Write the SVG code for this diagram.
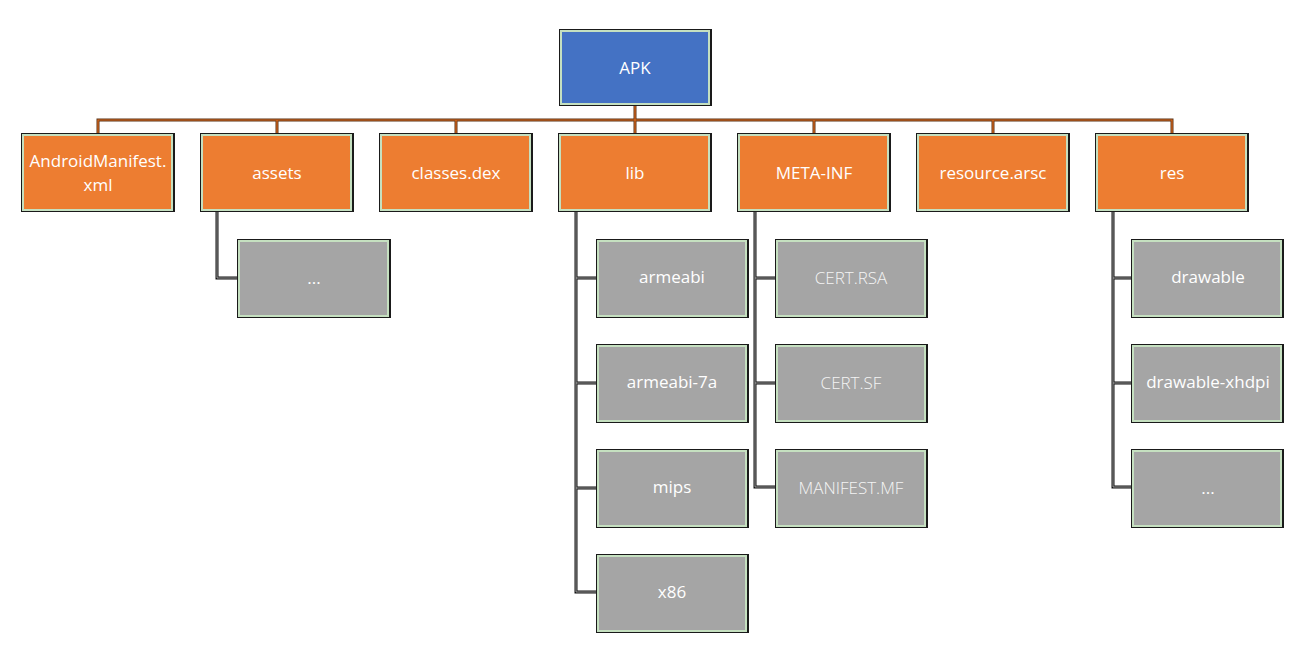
<svg xmlns="http://www.w3.org/2000/svg" width="1309" height="646" viewBox="0 0 1309 646">
<style>
.sh{fill:none;stroke:#1a1a1a;stroke-width:2}
.bx{stroke:#c5e0c0;stroke-width:2}
.blue{fill:#4472c4}
.org{fill:#ed7d31}
.gry{fill:#a5a5a5}
.t{font-family:"Open Sans","Noto Sans","Liberation Sans",sans-serif;font-size:17px;fill:#ffffff;text-anchor:middle;dominant-baseline:central}
.tl{font-weight:300;fill:#f4f4f4}
.co{fill:none;stroke:#5a3418;stroke-width:3}
.ci{fill:none;stroke:#e06a1c;stroke-width:1.2}
.cg{fill:none;stroke:#111;stroke-width:3}
.cgi{fill:none;stroke:#b0b0b0;stroke-width:0.9}
</style>
<g id="connectors">
<path class="co" d="M635 105V120M98 135V120H1172V135M277 120V135M456 120V135M635 120V135M814 120V135M993 120V135"/>
<path class="ci" d="M635 105V120M98 135V120H1172V135M277 120V135M456 120V135M635 120V135M814 120V135M993 120V135"/>
<g>
<path class="cg" d="M217 211V278H238"/>
<path class="cg" d="M576 211V592H597M576 278H597M576 383H597M576 488H597"/>
<path class="cg" d="M755 211V487H776M755 278H776M755 383H776"/>
<path class="cg" d="M1113 211V487H1132M1113 278H1132M1113 383H1132"/>
<path class="cgi" d="M217 211V278H238"/>
<path class="cgi" d="M576 211V592H597M576 278H597M576 383H597M576 488H597"/>
<path class="cgi" d="M755 211V487H776M755 383H776M755 278H776"/>
<path class="cgi" d="M1113 211V487H1132M1113 278H1132M1113 383H1132"/>
</g>
</g>
<g id="apk"><rect class="sh" x="560" y="30" width="151" height="75"/><rect class="bx blue" x="561" y="31" width="148" height="73"/><text class="t" x="635" y="67">APK</text></g>
<g id="manifest"><rect class="sh" x="22" y="134" width="152" height="77"/><rect class="bx org" x="23" y="135" width="149" height="75"/><text class="t" x="98" y="160">AndroidManifest.</text><text class="t" x="98" y="184">xml</text></g>
<g id="assets"><rect class="sh" x="201" y="134" width="152" height="77"/><rect class="bx org" x="202" y="135" width="149" height="75"/><text class="t" x="277" y="172">assets</text></g>
<g id="classes"><rect class="sh" x="380" y="134" width="152" height="77"/><rect class="bx org" x="381" y="135" width="149" height="75"/><text class="t" x="456" y="172">classes.dex</text></g>
<g id="lib"><rect class="sh" x="559" y="134" width="152" height="77"/><rect class="bx org" x="560" y="135" width="149" height="75"/><text class="t" x="635" y="172">lib</text></g>
<g id="metainf"><rect class="sh" x="738" y="134" width="152" height="77"/><rect class="bx org" x="739" y="135" width="149" height="75"/><text class="t" x="814" y="172">META-INF</text></g>
<g id="resource"><rect class="sh" x="917" y="134" width="152" height="77"/><rect class="bx org" x="918" y="135" width="149" height="75"/><text class="t" x="993" y="172">resource.arsc</text></g>
<g id="res"><rect class="sh" x="1096" y="134" width="152" height="77"/><rect class="bx org" x="1097" y="135" width="149" height="75"/><text class="t" x="1172" y="172">res</text></g>
<g id="assets-more"><rect class="sh" x="238" y="240" width="152" height="77"/><rect class="bx gry" x="239" y="241" width="149" height="75"/><text class="t" x="314" y="277">...</text></g>
<g id="armeabi"><rect class="sh" x="597" y="240" width="151" height="77"/><rect class="bx gry" x="598" y="241" width="148" height="75"/><text class="t" x="672" y="276">armeabi</text></g>
<g id="armeabi7a"><rect class="sh" x="597" y="345" width="151" height="77"/><rect class="bx gry" x="598" y="346" width="148" height="75"/><text class="t" x="672" y="381">armeabi-7a</text></g>
<g id="mips"><rect class="sh" x="597" y="450" width="151" height="77"/><rect class="bx gry" x="598" y="451" width="148" height="75"/><text class="t" x="672" y="486">mips</text></g>
<g id="x86"><rect class="sh" x="597" y="555" width="151" height="77"/><rect class="bx gry" x="598" y="556" width="148" height="75"/><text class="t" x="672" y="591">x86</text></g>
<g id="certrsa"><rect class="sh" x="776" y="240" width="151" height="77"/><rect class="bx gry" x="777" y="241" width="148" height="75"/><text class="t tl" x="851" y="277">CERT.RSA</text></g>
<g id="certsf"><rect class="sh" x="776" y="345" width="151" height="77"/><rect class="bx gry" x="777" y="346" width="148" height="75"/><text class="t tl" x="851" y="382">CERT.SF</text></g>
<g id="manifestmf"><rect class="sh" x="776" y="450" width="151" height="77"/><rect class="bx gry" x="777" y="451" width="148" height="75"/><text class="t tl" x="851" y="487">MANIFEST.MF</text></g>
<g id="drawable"><rect class="sh" x="1132" y="240" width="151" height="77"/><rect class="bx gry" x="1133" y="241" width="148" height="75"/><text class="t" x="1208" y="276">drawable</text></g>
<g id="drawablexhdpi"><rect class="sh" x="1132" y="345" width="151" height="77"/><rect class="bx gry" x="1133" y="346" width="148" height="75"/><text class="t" x="1208" y="381">drawable-xhdpi</text></g>
<g id="res-more"><rect class="sh" x="1132" y="450" width="151" height="77"/><rect class="bx gry" x="1133" y="451" width="148" height="75"/><text class="t" x="1208" y="487">...</text></g>
</svg>
